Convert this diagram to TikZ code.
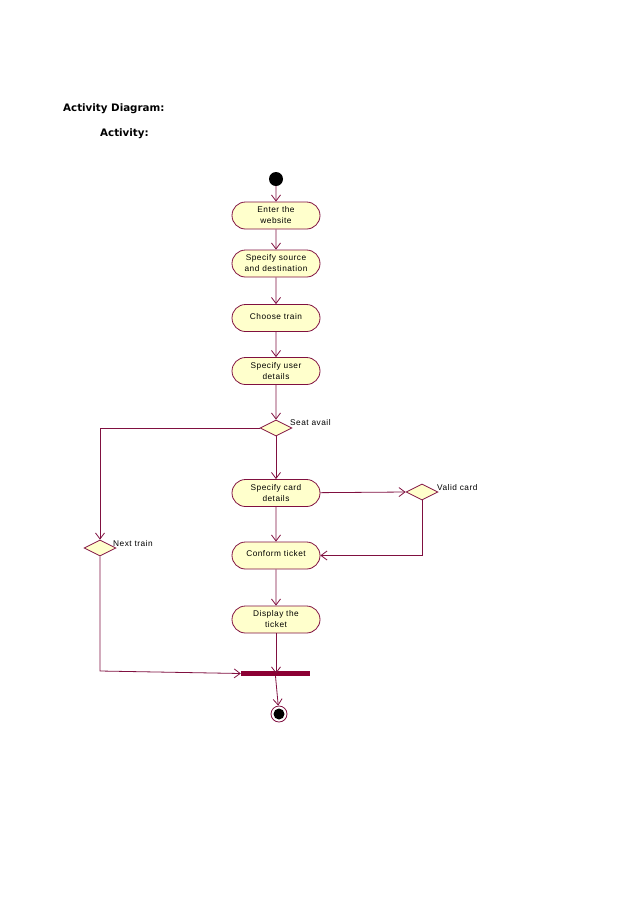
\documentclass[tikz,border=0pt]{standalone}
\usepackage{fontspec}
\setmainfont{Liberation Sans}[LetterSpace=6]
\newfontfamily\titlefont{DejaVu Sans}
\usetikzlibrary{shapes.misc,shapes.geometric,arrows.meta}
\definecolor{lc}{RGB}{128,16,64}
\definecolor{barc}{RGB}{140,0,52}
\definecolor{boxfill}{RGB}{255,255,204}
\tikzset{
  act/.style={rounded rectangle, draw=lc, fill=boxfill, line width=0.8pt,
    minimum width=88pt, minimum height=27pt, inner sep=0pt, align=center,
    font=\fontsize{8.3}{11}\selectfont},
  dec/.style={diamond, draw=lc, fill=boxfill, line width=0.8pt, aspect=2,
    minimum width=32pt, minimum height=16pt, inner sep=0pt},
  flow/.style={draw=lc, line width=0.8pt, -{Straight Barb[length=6pt,width=9pt]}},
  lbl/.style={font=\fontsize{8.3}{10}\selectfont, anchor=west, inner sep=0pt},
  ttl/.style={font=\titlefont\bfseries\fontsize{10.3}{12}\selectfont, anchor=west, inner sep=0pt}
}
\begin{document}
\begin{tikzpicture}[x=1pt,y=-1pt]
\useasboundingbox (0,0) rectangle (638,903);
\node[ttl] (t1) at (63,109) {Activity Diagram:};
\node[ttl] (t2) at (100,134) {Activity:};

\node[circle, fill=black, minimum size=14pt, inner sep=0pt] (start) at (276,179) {};
\node[act] (enter) at (276,215.5) {Enter the\\website};
\node[act] (source) at (276,263.5) {Specify source\\and destination};
\node[act] (choose) at (276,318) {\raisebox{4pt}{Choose train}};
\node[act] (user) at (276,371) {Specify user\\details};
\node[dec] (seat) at (276,428) {};
\node[lbl] (seatl) at (290,423) {Seat avail};
\node[act] (card) at (276,493) {Specify card\\details};
\node[dec] (valid) at (422,492) {};
\node[lbl] (validl) at (437,488) {Valid card};
\node[act] (conform) at (276,555.5) {\raisebox{5pt}{Conform ticket}};
\node[act] (display) at (276,619.5) {Display the\\ticket};
\node[dec] (next) at (100,548) {};
\node[lbl] (nextl) at (113,544) {Next train};
\node[rectangle, fill=barc, minimum width=69pt, minimum height=5pt, inner sep=0pt] (bar) at (275.5,673.5) {};
\node[circle, draw=lc, fill=white, line width=0.8pt, minimum size=16pt, inner sep=0pt] (end) at (279,714) {};
\fill[black] (end.center) circle (5.5pt);
\coordinate (nextc) at (100,671);

\draw[flow] (start) -- (enter);
\draw[flow] (enter) -- (source);
\draw[flow] (source) -- (choose);
\draw[flow] (choose) -- (user);
\draw[flow] (user) -- (seat);
\draw[flow] (seat) -- (card);
\draw[flow] (seat.west) -| (next.north);
\draw[flow] (card) -- (valid.west);
\draw[flow] (card) -- (conform);
\draw[flow] (valid.south) |- (conform.east);
\draw[flow] (conform) -- (display);
\draw[flow] (display) -- (display.south |- bar.center);
\draw[flow] (next.south) -- (nextc) -- (bar.west);
\draw[flow] (bar.south) -- (end);
\end{tikzpicture}
\end{document}
